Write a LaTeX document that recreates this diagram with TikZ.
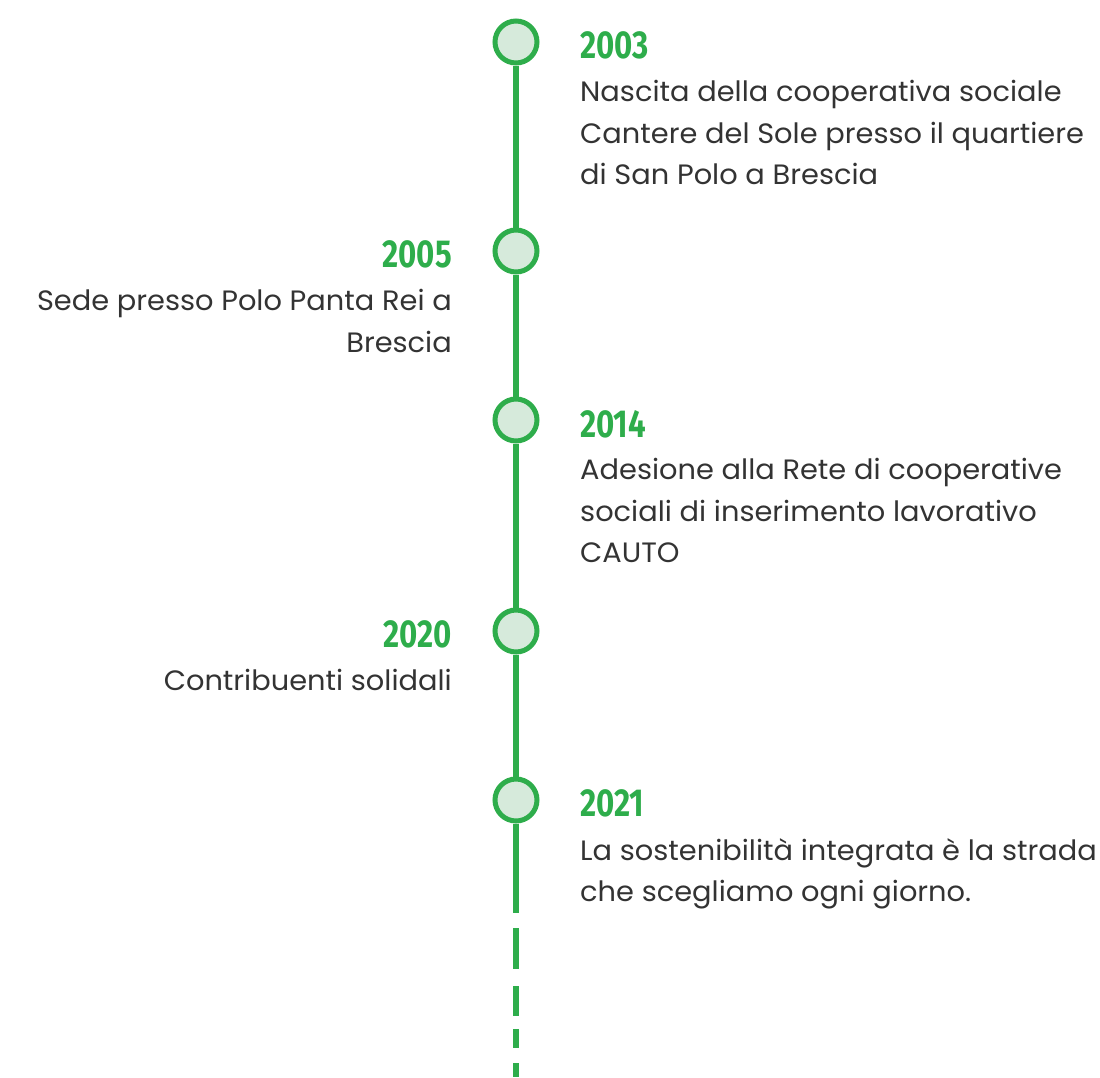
\documentclass[tikz,border=0pt]{standalone}
\usepackage{fontspec}
\setmainfont[FakeStretch=1.03]{Poppins}
\newfontfamily\yearfont[FakeStretch=0.8]{Fira Sans}
\definecolor{tlgreen}{HTML}{2EAD4B}
\definecolor{tlfill}{HTML}{D6EADB}
\definecolor{tltext}{HTML}{333333}
\tikzset{
  event/.style={circle, draw=tlgreen, fill=tlfill, line width=5pt, minimum size=42pt, inner sep=0pt},
  spine/.style={draw=tlgreen, line width=6pt},
  year/.style={font=\yearfont\bfseries\fontsize{39}{39}\selectfont, text=tlgreen, inner sep=0pt},
  desc/.style={font=\fontsize{28}{41.5}\selectfont, text=tltext, inner sep=0pt}
}

\begin{document}
\begin{tikzpicture}[x=1pt, y=-1pt]
    \useasboundingbox (0,0) rectangle (1100,1077); % same size as the reference

    \node[event] (e2003) at (516,42) {};
    \node[event] (e2005) at (516,251) {};
    \node[event] (e2014) at (516,420) {};
    \node[event] (e2020) at (516,631) {};
    \node[event] (e2021) at (516,800) {};
    \coordinate (solidend) at (516,913);
    \coordinate (dashstart) at (516,928);
    \coordinate (dashend) at (516,1077);

    \draw[spine] (e2003) -- (e2005);
    \draw[spine] (e2005) -- (e2014);
    \draw[spine] (e2014) -- (e2020);
    \draw[spine] (e2020) -- (e2021);
    \draw[spine] (e2021) -- (solidend);
    \draw[spine, dash pattern=on 41pt off 17pt on 30pt off 13pt on 19pt off 15pt on 20pt] (dashstart) -- (dashend);

    \node[year, anchor=base west] (y2003) at (580,58) {2003};
    \node[year, anchor=base east] (y2005) at (452,267) {2005};
    \node[year, anchor=base west] (y2014) at (580,437) {2014};
    \node[year, anchor=base east] (y2020) at (452,647) {2020};
    \node[year, anchor=base west] (y2021) at (580,816) {2021};

    \node[desc, anchor=north west, align=left] (d2003) at (580,80) {Nascita della cooperativa sociale\\Cantere del Sole presso il quartiere\\di San Polo a Brescia};
    \node[desc, anchor=north east, align=right] (d2005) at (452,289) {Sede presso Polo Panta Rei a\\Brescia};
    \node[desc, anchor=north west, align=left] (d2014) at (580,458) {Adesione alla Rete di cooperative\\sociali di inserimento lavorativo\\CAUTO};
    \node[desc, anchor=north east, align=right] (d2020) at (452,669) {Contribuenti solidali};
    \node[desc, anchor=north west, align=left] (d2021) at (580,838) {La sostenibilità integrata è la strada\\che scegliamo ogni giorno.};
  \end{tikzpicture}
\end{document}
